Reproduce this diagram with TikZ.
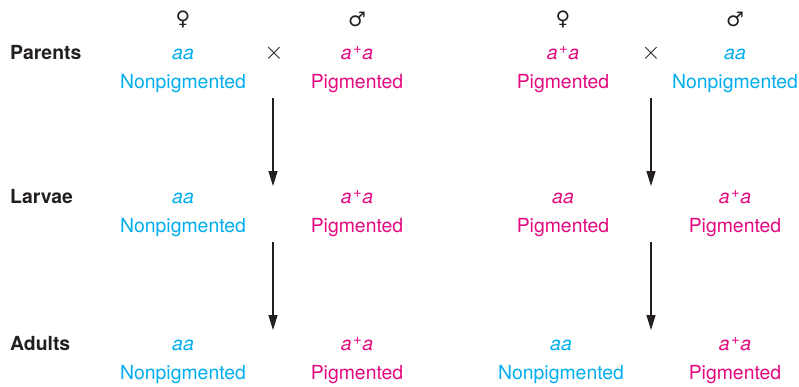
\documentclass[tikz,border=0pt]{standalone}
\usepackage{fontspec}
\setmainfont{TeX Gyre Heros}
\newfontfamily\symfont{DejaVu Sans}
\usetikzlibrary{arrows.meta}
\definecolor{nonpig}{HTML}{00AEEF}
\definecolor{pig}{HTML}{E5097F}
\definecolor{ink}{HTML}{231F20}
\newcommand{\aplus}{\textit{a}\kern1.5pt\raisebox{5.5pt}{\fontsize{15}{15}\selectfont +}\kern0.5pt\textit{a}}
\begin{document}
\begin{tikzpicture}[x=1pt,y=-1pt,
  txt/.style={inner sep=0pt,anchor=base,font=\fontsize{19.4}{22}\selectfont},
  rowlabel/.style={txt,anchor=base west,text=ink,font=\fontsize{19.4}{22}\selectfont\bfseries},
  np/.style={txt,text=nonpig},
  pg/.style={txt,text=pig},
  sexsym/.style={inner sep=0pt,anchor=center,text=ink,font=\symfont\fontsize{20}{20}\selectfont},
  cross/.style={inner sep=0pt,anchor=center,text=ink,font=\fontsize{26}{28}\selectfont},
  genarrow/.style={draw=ink,line width=1.3pt,-{Triangle[width=9pt,length=15pt]}}]
\path[use as bounding box,fill=white] (0,0) rectangle (799,386);

% row labels
\node[rowlabel] (lpar) at (10,59) {Parents};
\node[rowlabel] (llar) at (10,203) {Larvae};
\node[rowlabel] (ladu) at (10,350) {Adults};

% sex symbols
\node[sexsym] (f1) at (183,19) {♀};
\node[sexsym] (m1) at (357,19) {♂};
\node[sexsym] (f2) at (563,19) {♀};
\node[sexsym] (m2) at (735,19) {♂};

% first cross: aa female x a+a male
\node[np] (g11) at (183,59) {\textit{aa}};
\node[np] (p11) at (183,88) {Nonpigmented};
\node[pg] (g12) at (357,59) {\aplus};
\node[pg] (p12) at (357,88) {Pigmented};
\node[cross] (x1) at (274,53) {$\times$};

\node[np] (g21) at (183,203) {\textit{aa}};
\node[np] (p21) at (183,232) {Nonpigmented};
\node[pg] (g22) at (357,203) {\aplus};
\node[pg] (p22) at (357,232) {Pigmented};

\node[np] (g31) at (183,350) {\textit{aa}};
\node[np] (p31) at (183,379) {Nonpigmented};
\node[pg] (g32) at (357,350) {\aplus};
\node[pg] (p32) at (357,379) {Pigmented};

% second cross: a+a female x aa male
\node[pg] (g13) at (563,59) {\aplus};
\node[pg] (p13) at (563,88) {Pigmented};
\node[np] (g14) at (735,59) {\textit{aa}};
\node[np] (p14) at (735,88) {Nonpigmented};
\node[cross] (x2) at (651,53) {$\times$};

\node[pg] (g23) at (563,203) {\textit{aa}};
\node[pg] (p23) at (563,232) {Pigmented};
\node[pg] (g24) at (735,203) {\aplus};
\node[pg] (p24) at (735,232) {Pigmented};

\node[np] (g33) at (561,350) {\textit{aa}};
\node[np] (p33) at (561,379) {Nonpigmented};
\node[pg] (g34) at (735,350) {\aplus};
\node[pg] (p34) at (735,379) {Pigmented};

% generation arrows
\coordinate (a1s) at (273,98);  \coordinate (a1e) at (273,186);
\coordinate (a2s) at (273,242); \coordinate (a2e) at (273,330);
\coordinate (a3s) at (651,98);  \coordinate (a3e) at (651,186);
\coordinate (a4s) at (651,242); \coordinate (a4e) at (651,330);
\draw[genarrow] (a1s) -- (a1e);
\draw[genarrow] (a2s) -- (a2e);
\draw[genarrow] (a3s) -- (a3e);
\draw[genarrow] (a4s) -- (a4e);
\end{tikzpicture}
\end{document}
